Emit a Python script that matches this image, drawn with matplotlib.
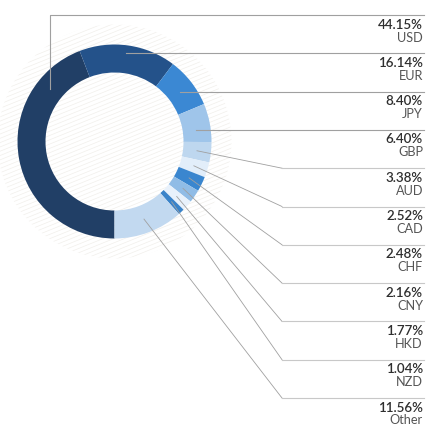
import matplotlib.pyplot as plt
import matplotlib.patches as mpatches
import numpy as np

currencies = ['USD', 'EUR', 'JPY', 'GBP', 'AUD', 'CAD', 'CHF', 'CNY', 'HKD', 'NZD', 'Other']
shares = [44.15, 16.14, 8.40, 6.40, 3.38, 2.52, 2.48, 2.16, 1.77, 1.04, 11.56]
colors = ['#213f66', '#24528a', '#3b88d3', '#9fc5ea', '#bed7ef', '#e2eefa',
          '#3a86cf', '#90bce6', '#e8f1fb', '#3a83c9', '#c2d9f0']

W, H = 448, 443
cx, cy = 114.5, H - 141.5
r_out, r_in = 97, 69
r_mid = 83


def iy(y):
    # image row -> data y
    return H - y


fig = plt.figure(figsize=(W / 100, H / 100), dpi=100)
ax = fig.add_axes([0, 0, 1, 1])

# faint striped disc behind the donut
disc = mpatches.Circle((cx, cy), 117, facecolor='none', edgecolor='none')
ax.add_patch(disc)
slope = np.tan(np.radians(22))
for c in np.arange(-200, 200, 4.3):
    xs = np.array([cx - 130, cx + 130])
    ys = cy + c + slope * (xs - cx)
    ln, = ax.plot(xs, ys, color='#f1efeb', lw=0.5, zorder=0)
    ln.set_clip_path(disc)

wedges, _ = ax.pie(shares, colors=colors, startangle=270, counterclock=False,
                   center=(cx, cy), radius=r_out,
                   wedgeprops=dict(width=r_out - r_in, linewidth=0))

line_y = np.linspace(15, 398, len(currencies))
x_end = 424
x_elbow = 282
lc = '#a0a0a0'

for i, (w, name, val) in enumerate(zip(wedges, currencies, shares)):
    ly = iy(line_y[i])
    mid = np.radians((w.theta1 + w.theta2) / 2)
    ax_ = cx + r_mid * np.cos(mid)
    ay_ = cy + r_mid * np.sin(mid)
    if i == 0:
        a = np.radians(141)
        px = cx + r_mid * np.cos(a)
        py = cy + r_mid * np.sin(a)
        ax.plot([px, px, x_end], [py, ly, ly], color=lc, lw=0.8)
    elif i < 4:
        ax.plot([ax_, x_end], [ly, ly], color=lc, lw=0.8)
    else:
        ax.plot([ax_, x_elbow], [ay_, ly], color=lc, lw=0.6)
        ax.plot([x_elbow, x_end], [ly, ly], color='#c8c8c8', lw=0.8)
    ax.text(423, ly - 9.5, f'{val:.2f}%', ha='right', va='center',
            fontsize=9.6, fontweight='semibold', color='#2e2e2e', family='Lato')
    ax.text(423, ly - 22.5, name, ha='right', va='center',
            fontsize=9.2, color='#555555', family='Lato')

ax.set_xlim(0, W)
ax.set_ylim(0, H)
ax.set_aspect('equal')
ax.axis('off')

fig.savefig('out.png', dpi=100, facecolor='white')
